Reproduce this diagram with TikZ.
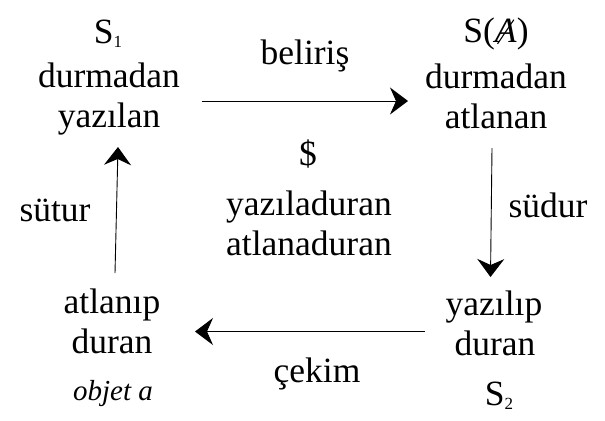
\documentclass[tikz,border=0pt]{standalone}
\usepackage{fontspec}
\setmainfont{Liberation Serif}
\usetikzlibrary{arrows.meta}
\newcommand{\subdig}[1]{\raisebox{-0.12em}{\fontsize{17bp}{17bp}\selectfont #1}}
\newcommand{\barA}{\makebox[0pt][l]{\hspace{0.06em}\raisebox{-0.06em}{\rotatebox{56}{\rule{0.82em}{0.03em}}}}\textit{A}}
\begin{document}
\begin{tikzpicture}[x=1bp,y=-1bp,
  lbl/.style={anchor=base,inner sep=0pt,font=\fontsize{35.5bp}{40bp}\selectfont},
  small/.style={anchor=base,inner sep=0pt,font=\fontsize{29bp}{34bp}\selectfont\itshape},
  arr/.style={line width=0.9bp,-{Stealth[length=18bp,width=27bp,inset=6bp]}}]
\useasboundingbox (0,0) rectangle (605,420);
% top left
\node[lbl] (s1) at (108,43) {S\subdig{1}};
\node[lbl] (tl1) at (109,87) {durmadan};
\node[lbl] (tl2) at (109,127) {yazılan};
% top right
\node[lbl] (sa) at (496,42) {S(\barA)};
\node[lbl] (tr1) at (496,88) {durmadan};
\node[lbl] (tr2) at (496,128) {atlanan};
% center
\node[lbl] (sb) at (308,165) {\$};
\node[lbl] (c1) at (309,215) {yazıladuran};
\node[lbl] (c2) at (309,255) {atlanaduran};
% bottom right
\node[lbl] (br1) at (494,315) {yazılıp};
\node[lbl] (br2) at (495,355) {duran};
\node[lbl] (s2) at (499,405) {S\subdig{2}};
% bottom left
\node[lbl] (bl1) at (112,313) {atlanıp};
\node[lbl] (bl2) at (112,353) {duran};
\node[small] (oa) at (113,400) {objet a};
% arrow labels
\node[lbl] (lb1) at (305,64) {beliriş};
\node[lbl] (lb2) at (548,217) {südur};
\node[lbl] (lb3) at (317,382) {çekim};
\node[lbl] (lb4) at (55,221) {sütur};
% arrow end points
\coordinate (a1s) at (202,101);
\coordinate (a1e) at (408,101);
\coordinate (a2s) at (492,148);
\coordinate (a2e) at (490.5,277);
\coordinate (a3s) at (425,331.5);
\coordinate (a3e) at (195,331.5);
\coordinate (a4s) at (115,273);
\coordinate (a4e) at (118,147);
\draw[arr] (a1s) -- (a1e);
\draw[arr] (a2s) -- (a2e);
\draw[arr] (a3s) -- (a3e);
\draw[arr] (a4s) -- (a4e);
\end{tikzpicture}
\end{document}
